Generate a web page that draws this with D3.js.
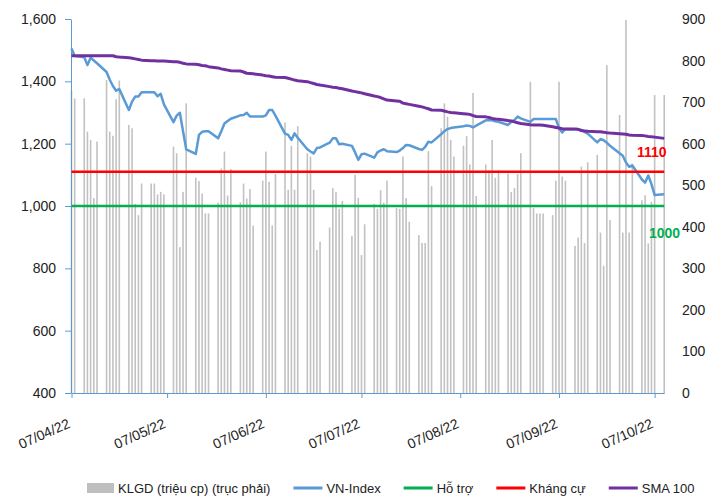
<!DOCTYPE html>
<html>
<head>
<meta charset="utf-8">
<script src="https://cdn.jsdelivr.net/npm/d3@7"></script>
<style>
body { margin: 0; background: #fff; }
text { font-family: "Liberation Sans", Arial, sans-serif; fill: #222; }
</style>
</head>
<body>
<div id="chart"></div>
<script>
// trading days (x axis)
var tradeDays = [
    "2022-04-07", "2022-04-08", "2022-04-11", "2022-04-12", "2022-04-13", "2022-04-14", "2022-04-15",
    "2022-04-18", "2022-04-19", "2022-04-20", "2022-04-21", "2022-04-22", "2022-04-25", "2022-04-26",
    "2022-04-27", "2022-04-28", "2022-04-29",
    "2022-05-02", "2022-05-03", "2022-05-04", "2022-05-05", "2022-05-06", "2022-05-09", "2022-05-10",
    "2022-05-11", "2022-05-12", "2022-05-13", "2022-05-16", "2022-05-17", "2022-05-18", "2022-05-19",
    "2022-05-20", "2022-05-23", "2022-05-24", "2022-05-25", "2022-05-26", "2022-05-27", "2022-05-30",
    "2022-05-31",
    "2022-06-01", "2022-06-02", "2022-06-03", "2022-06-06", "2022-06-07", "2022-06-08", "2022-06-09",
    "2022-06-10", "2022-06-13", "2022-06-14", "2022-06-15", "2022-06-16", "2022-06-17", "2022-06-20",
    "2022-06-21", "2022-06-22", "2022-06-23", "2022-06-24", "2022-06-27", "2022-06-28", "2022-06-29",
    "2022-06-30",
    "2022-07-01", "2022-07-04", "2022-07-05", "2022-07-06", "2022-07-07", "2022-07-08", "2022-07-11",
    "2022-07-12", "2022-07-13", "2022-07-14", "2022-07-15", "2022-07-18", "2022-07-19", "2022-07-20",
    "2022-07-21", "2022-07-22", "2022-07-25", "2022-07-26", "2022-07-27", "2022-07-28", "2022-07-29",
    "2022-08-01", "2022-08-02", "2022-08-03", "2022-08-04", "2022-08-05", "2022-08-08", "2022-08-09",
    "2022-08-10", "2022-08-11", "2022-08-12", "2022-08-15", "2022-08-16", "2022-08-17", "2022-08-18",
    "2022-08-19", "2022-08-22", "2022-08-23", "2022-08-24", "2022-08-25", "2022-08-26", "2022-08-29",
    "2022-08-30", "2022-08-31",
    "2022-09-01", "2022-09-02", "2022-09-05", "2022-09-06", "2022-09-07", "2022-09-08", "2022-09-09",
    "2022-09-12", "2022-09-13", "2022-09-14", "2022-09-15", "2022-09-16", "2022-09-19", "2022-09-20",
    "2022-09-21", "2022-09-22", "2022-09-23", "2022-09-26", "2022-09-27", "2022-09-28", "2022-09-29",
    "2022-09-30",
    "2022-10-03", "2022-10-04", "2022-10-05", "2022-10-06", "2022-10-07", "2022-10-10"
];
// KLGD (trieu cp), right axis
var volume = [
    727, 709, 709, 629, 609, 469, 605, 753, 629, 619, 707, 752, 645, 637, 455, 428, 504,
    504, 504, 478, 484, 478, 593, 577, 351, 484, 697, 518, 510, 480, 432, 432, 458, 540, 581, 475, 539, 459, 504,
    468, 491, 403, 511, 581, 508, 403, 527, 651, 489, 595, 489, 642, 577, 569, 489, 344, 364, 398, 493, 484, 443,
    462, 378, 525, 470, 332, 406, 455, 443, 488, 458, 511, 445, 443, 569, 469, 412, 380, 361, 361, 582, 498,
    637, 697, 665, 609, 569, 595, 618, 550, 722, 474, 550, 536, 609, 518, 536, 528, 484, 493, 527, 577, 749, 445, 432,
    432, 432, 428, 511, 749, 521, 511, 354, 374, 545, 361, 555, 573, 386, 306, 789, 416, 669, 386, 898, 386, 552,
    464, 476, 360, 460, 717, 717
];
var vnIndex = [
    1505, 1481, 1477, 1452, 1476, 1467, 1458, 1430, 1405, 1385, 1370, 1375, 1308, 1335, 1351, 1351, 1365,
    1365, 1365, 1352, 1360, 1326, 1269, 1290, 1299, 1240, 1182, 1167, 1228, 1238, 1240, 1240, 1217, 1240, 1265, 1273, 1280, 1291, 1292,
    1299, 1287, 1287, 1287, 1291, 1308, 1308, 1290, 1232, 1228, 1212, 1233, 1219, 1182, 1175, 1169, 1186, 1188, 1203, 1217, 1217, 1198,
    1200, 1193, 1172, 1148, 1166, 1168, 1155, 1172, 1178, 1182, 1176, 1173, 1178, 1186, 1196, 1195, 1183, 1180, 1190, 1206, 1204,
    1230, 1240, 1247, 1250, 1252, 1256, 1258, 1257, 1252, 1258, 1275, 1276, 1275, 1272, 1270, 1260, 1270, 1276, 1287, 1281, 1270, 1279, 1279,
    1279, 1279, 1279, 1279, 1249, 1236, 1247, 1246, 1246, 1244, 1238, 1232, 1204, 1215, 1211, 1203, 1193, 1169, 1161, 1140, 1126, 1130,
    1085, 1075, 1098, 1070, 1035, 1038
];
var sma100 = [
    1482, 1482, 1482, 1482, 1482, 1482, 1482, 1482, 1482, 1482, 1479, 1478, 1476, 1474, 1472, 1470, 1468,
    1466, 1466, 1465, 1465, 1465, 1463, 1463, 1461, 1458, 1456, 1455, 1453, 1451, 1450, 1447, 1443, 1440, 1438, 1436, 1434, 1433, 1430,
    1426, 1425, 1424, 1420, 1418, 1417, 1415, 1413, 1412, 1410, 1407, 1404, 1402, 1399, 1396, 1393, 1390, 1388, 1383, 1381, 1380, 1378,
    1376, 1369, 1367, 1365, 1363, 1360, 1353, 1351, 1348, 1344, 1340, 1337, 1336, 1330, 1328, 1326, 1320, 1318, 1315, 1312, 1308,
    1307, 1305, 1302, 1300, 1299, 1296, 1295, 1294, 1290, 1287, 1286, 1284, 1281, 1279, 1278, 1274, 1273, 1270, 1267, 1265, 1261, 1260, 1260,
    1260, 1259, 1254, 1252, 1250, 1248, 1247, 1247, 1246, 1242, 1241, 1240, 1238, 1238, 1237, 1235, 1234, 1232, 1231, 1230, 1228, 1227,
    1226, 1225, 1223, 1222, 1221, 1217
];
var supportLevel = 1000;
var resistanceLevel = 1110;
var leftTicks = [400, 600, 800, 1000, 1200, 1400, 1600];
var rightTicks = [0, 100, 200, 300, 400, 500, 600, 700, 800, 900];
var monthTicks = ["2022-04-07", "2022-05-07", "2022-06-07", "2022-07-07", "2022-08-07", "2022-09-07", "2022-10-07"];
var legendLabels = ["KLGD (triệu cp) (trục phải)", "VN-Index", "Hỗ trợ", "Kháng cự", "SMA 100"];
var legendColors = ["#bfbfbf", "#5b9bd5", "#00b050", "#ff0000", "#7030a0"];

var svgWidth = 714;
var svgHeight = 497;
var margin = { top: 19, right: 50, bottom: 104, left: 71 };
var chartWidth = svgWidth - margin.left - margin.right;
var chartHeight = svgHeight - margin.top - margin.bottom;

var parseDate = d3.timeParse("%Y-%m-%d");
var dates = tradeDays.map(parseDate);
var rows = dates.map(function(d, i) {
    return { date: d, vol: volume[i], vn: vnIndex[i], sma: sma100[i] };
});

var svg = d3.select("#chart")
    .append("svg")
    .attr("width", svgWidth)
    .attr("height", svgHeight);

var chartGroup = svg.append("g")
    .attr("transform", `translate(${margin.left}, ${margin.top})`);

// scales
var xScale = d3.scaleTime()
    .domain([dates[0], dates[dates.length - 1]])
    .range([0.5, 593.2]);
var yLeft = d3.scaleLinear().domain([400, 1600]).range([chartHeight, 0]);
var yRight = d3.scaleLinear().domain([0, 900]).range([chartHeight, 0]);

// volume bars
chartGroup.selectAll(".bar")
    .data(rows)
    .enter()
    .append("rect")
    .attr("class", "bar")
    .attr("x", d => xScale(d.date) - 0.8)
    .attr("width", 1.6)
    .attr("y", d => yRight(d.vol))
    .attr("height", d => chartHeight - yRight(d.vol))
    .attr("fill", "#c2c2c2");

// axes
var axisColor = "#5b9bd5";
var xAxis = chartGroup.append("g")
    .attr("transform", `translate(0, ${chartHeight})`)
    .call(d3.axisBottom(xScale)
        .tickValues(monthTicks.map(parseDate))
        .tickFormat(d3.timeFormat("%d/%m/%y"))
        .tickSize(5)
        .tickSizeOuter(0));
xAxis.selectAll("text")
    .attr("x", 0)
    .attr("y", 0)
    .attr("dy", 0)
    .attr("text-anchor", "end")
    .attr("transform", "translate(-1, 34) rotate(-24)")
    .style("font-size", "14px");

var leftAxis = chartGroup.append("g")
    .call(d3.axisLeft(yLeft)
        .tickValues(leftTicks)
        .tickFormat(d3.format(","))
        .tickSize(6)
        .tickSizeOuter(0)
        .tickPadding(9));
leftAxis.selectAll("text").style("font-size", "14px");

var rightAxis = chartGroup.append("g")
    .attr("transform", `translate(${chartWidth - 2}, 0)`)
    .call(d3.axisRight(yRight)
        .tickValues(rightTicks)
        .tickSize(0)
        .tickPadding(20));
rightAxis.select(".domain").remove();
rightAxis.selectAll("text").style("font-size", "14px");

[xAxis, leftAxis].forEach(function(ax) {
    ax.selectAll("path, line").attr("stroke", axisColor);
});
svg.selectAll(".tick text").attr("fill", "#222").attr("font-family", null);

// lines
var vnLine = d3.line().x(d => xScale(d.date)).y(d => yLeft(d.vn));
var smaLine = d3.line().x(d => xScale(d.date)).y(d => yLeft(d.sma));
var levelLine = function(level) {
    return d3.line().x(d => xScale(d.date)).y(yLeft(level));
};

chartGroup.append("path")
    .datum(rows)
    .attr("d", vnLine)
    .attr("fill", "none")
    .attr("stroke", "#5b9bd5")
    .attr("stroke-width", 2.5)
    .attr("stroke-linejoin", "round");

chartGroup.append("path")
    .datum(rows)
    .attr("d", levelLine(supportLevel))
    .attr("fill", "none")
    .attr("stroke", "#00b050")
    .attr("stroke-width", 2.5);

chartGroup.append("path")
    .datum(rows)
    .attr("d", levelLine(resistanceLevel))
    .attr("fill", "none")
    .attr("stroke", "#ff0000")
    .attr("stroke-width", 2.5);

chartGroup.append("path")
    .datum(rows)
    .attr("d", smaLine)
    .attr("fill", "none")
    .attr("stroke", "#7030a0")
    .attr("stroke-width", 3)
    .attr("stroke-linejoin", "round");

// level labels
chartGroup.append("text")
    .attr("x", 566)
    .attr("y", yLeft(resistanceLevel) - 15)
    .style("font-size", "14px")
    .style("font-weight", "bold")
    .style("fill", "#ff0000")
    .text(resistanceLevel);

chartGroup.append("text")
    .attr("x", 578)
    .attr("y", yLeft(supportLevel) + 32)
    .style("font-size", "14px")
    .style("font-weight", "bold")
    .style("fill", "#00b050")
    .text(supportLevel);

// legend
var legend = svg.append("g").attr("transform", "translate(87, 488)");
var lx = 0;
legendLabels.forEach(function(label, i) {
    var item = legend.append("g").attr("transform", `translate(${lx}, 0)`);
    if (i === 0) {
        item.append("rect")
            .attr("x", 0).attr("y", -5)
            .attr("width", 27).attr("height", 10)
            .attr("fill", legendColors[i]);
    } else {
        item.append("line")
            .attr("x1", 0).attr("x2", 29)
            .attr("y1", 0).attr("y2", 0)
            .attr("stroke", legendColors[i])
            .attr("stroke-width", 3);
    }
    var t = item.append("text")
        .attr("x", i === 0 ? 31 : 33)
        .attr("y", 5)
        .style("font-size", "13px")
        .text(label);
    lx += (i === 0 ? 31 : 33) + t.node().getComputedTextLength() + 23;
});
</script>
</body>
</html>
